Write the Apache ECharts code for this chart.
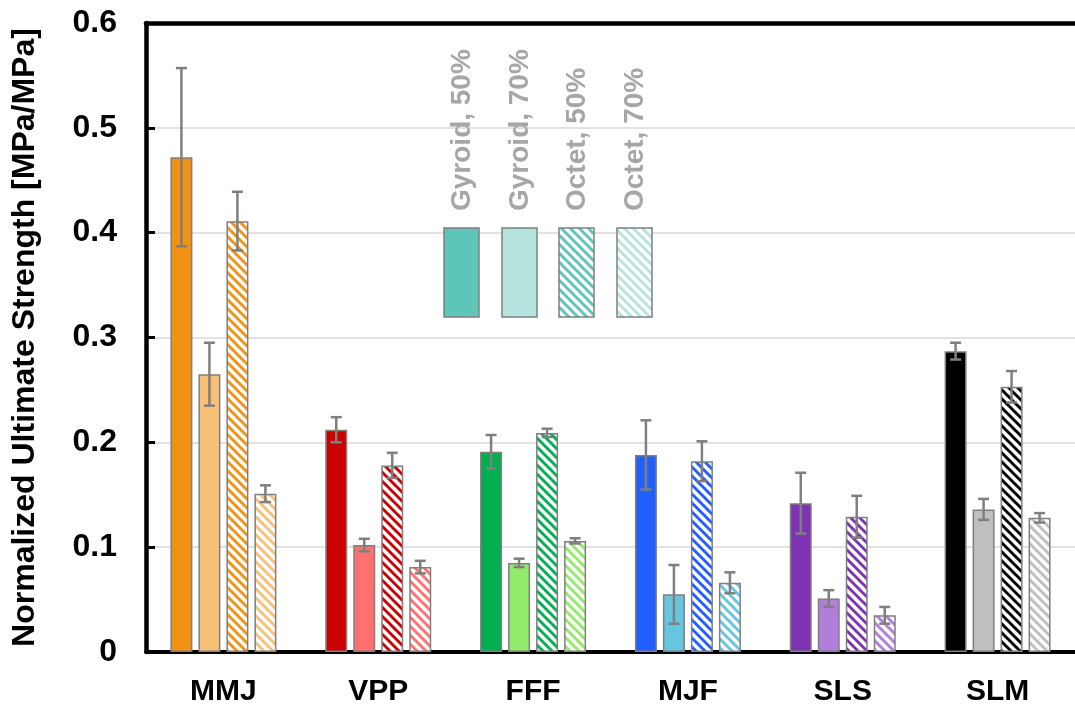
<!DOCTYPE html>
<html>
<head>
<meta charset="utf-8">
<script src="https://cdn.jsdelivr.net/npm/echarts@6/dist/echarts.min.js"></script>
<style>
html,body{margin:0;padding:0;background:#fff;}
#main{width:1075px;height:709px;}
</style>
</head>
<body>
<div id="main"></div>
<script>
// categories and values
var categories = ['MMJ', 'VPP', 'FFF', 'MJF', 'SLS', 'SLM'];
var seriesNames = ['Gyroid, 50%', 'Gyroid, 70%', 'Octet, 50%', 'Octet, 70%'];
var gyroid50 = [0.472, 0.212, 0.191, 0.188, 0.142, 0.287];
var gyroid70 = [0.265, 0.102, 0.085, 0.055, 0.051, 0.136];
var octet50 = [0.411, 0.178, 0.209, 0.182, 0.129, 0.253];
var octet70 = [0.151, 0.081, 0.106, 0.066, 0.035, 0.128];
// error (+/-)
var gyroid50Err = [0.085, 0.012, 0.016, 0.033, 0.029, 0.008];
var gyroid70Err = [0.030, 0.006, 0.004, 0.028, 0.008, 0.010];
var octet50Err = [0.028, 0.012, 0.004, 0.019, 0.020, 0.015];
var octet70Err = [0.008, 0.006, 0.0025, 0.010, 0.008, 0.0045];
var yTicks = [0, 0.1, 0.2, 0.3, 0.4, 0.5, 0.6];

var darkColors = ['#F39112', '#CC0000', '#00B050', '#215EFF', '#7E32B4', '#000000'];
var lightColors = ['#F8C077', '#FF7171', '#92EA6A', '#66C5E1', '#B07FD9', '#BFBFBF'];
var legendDark = '#5EC5B9';
var legendLight = '#B5E4DF';

var values = [gyroid50, gyroid70, octet50, octet70];
var errors = [gyroid50Err, gyroid70Err, octet50Err, octet70Err];

var barW = 22, barGapPx = 6;
var borderCol = '#7F7F7F';
var fontFam = '"Liberation Sans", Arial, sans-serif';

// diagonal stripe pattern
function hatch(color){
	var s = 9;
	var cv = document.createElement('canvas');
	cv.width = s; cv.height = s;
	var ctx = cv.getContext('2d');
	ctx.fillStyle = '#fff';
	ctx.fillRect(0, 0, s, s);
	ctx.strokeStyle = color;
	ctx.lineWidth = 2.9;
	for(var k = -1; k <= 1; k++){
		ctx.beginPath();
		ctx.moveTo(-2, -2 + k*s);
		ctx.lineTo(s+2, s+2 + k*s);
		ctx.stroke();
	}
	return {image: cv, repeat: 'repeat'};
}

function itemColor(si, ci){
	var c = (si % 2 == 0) ? darkColors[ci] : lightColors[ci];
	return si < 2 ? c : hatch(c);
}

var series = [];
for(var si = 0; si < 4; si++){
	var data = [];
	for(var ci = 0; ci < categories.length; ci++){
		data.push({
			value: values[si][ci],
			itemStyle: {color: itemColor(si, ci), borderColor: borderCol, borderWidth: 1.5}
		});
	}
	series.push({
		name: seriesNames[si],
		type: 'bar',
		barWidth: barW,
		barGap: (barGapPx / barW * 100) + '%',
		data: data,
		z: 2
	});
}

// error bars
for(var si = 0; si < 4; si++){
	var edata = [];
	for(var ci = 0; ci < categories.length; ci++){
		edata.push([ci, values[si][ci], errors[si][ci]]);
	}
	(function(idx){
		series.push({
			type: 'custom',
			z: 5,
			data: edata,
			renderItem: function(params, api){
				var off = (idx - 1.5) * (barW + barGapPx);
				var v = api.value(1), e = api.value(2);
				var top = api.coord([api.value(0), v + e]);
				var bot = api.coord([api.value(0), v - e]);
				var x = top[0] + off;
				var st = {stroke: '#7F7F7F', lineWidth: 2.5};
				return {
					type: 'group',
					children: [
						{type: 'line', shape: {x1: x, y1: top[1], x2: x, y2: bot[1]}, style: st},
						{type: 'line', shape: {x1: x-5.5, y1: top[1], x2: x+5.5, y2: top[1]}, style: st},
						{type: 'line', shape: {x1: x-5.5, y1: bot[1], x2: x+5.5, y2: bot[1]}, style: st}
					]
				};
			}
		});
	})(si);
}

// legend drawn as graphic
var legendX = [444, 502, 559, 617];
var graphics = [];
for(var i = 0; i < 4; i++){
	var lc = (i % 2 == 0) ? legendDark : legendLight;
	graphics.push({
		type: 'rect',
		shape: {x: legendX[i], y: 228, width: 35, height: 89},
		style: {fill: i < 2 ? lc : hatch(lc), stroke: borderCol, lineWidth: 1.5},
		z: 10
	});
	graphics.push({
		type: 'text',
		x: legendX[i] + 18,
		y: 211,
		rotation: Math.PI / 2,
		style: {
			text: seriesNames[i],
			fill: '#A6A6A6',
			font: 'bold 28px ' + fontFam,
			align: 'left',
			verticalAlign: 'middle'
		},
		z: 10
	});
}

var chart = echarts.init(document.getElementById('main'));
var option = {
	backgroundColor: '#fff',
	animation: false,
	grid: {left: 146, right: 0, top: 23, bottom: 57, outerBoundsMode: 'none', containLabel: false},
	xAxis: [
		{
			type: 'category',
			data: categories,
			axisLine: {lineStyle: {color: '#000', width: 4}},
			axisTick: {show: false},
			axisLabel: {
				color: '#000',
				fontFamily: fontFam,
				fontWeight: 'bold',
				fontSize: 30,
				margin: 25
			}
		},
		{
			type: 'category',
			position: 'top',
			data: categories,
			axisLine: {lineStyle: {color: '#000', width: 4.5}},
			axisTick: {show: false},
			axisLabel: {show: false}
		}
	],
	yAxis: {
		type: 'value',
		min: yTicks[0],
		max: yTicks[yTicks.length - 1],
		interval: 0.1,
		name: 'Normalized Ultimate Strength [MPa/MPa]',
		nameLocation: 'middle',
		nameRotate: 90,
		nameGap: 105,
		nameTextStyle: {
			color: '#000',
			fontFamily: fontFam,
			fontWeight: 'bold',
			fontSize: 32
		},
		axisLine: {show: true, lineStyle: {color: '#000', width: 4.5}},
		axisTick: {show: true, inside: true, length: 9, lineStyle: {color: '#000', width: 3}},
		axisLabel: {
			color: '#000',
			fontFamily: fontFam,
			fontWeight: 'bold',
			fontSize: 32,
			margin: 29,
			formatter: function(v){ return v == 0 ? '0' : v.toFixed(1); }
		},
		splitLine: {lineStyle: {color: '#D9D9D9', width: 1.5}}
	},
	graphic: graphics,
	series: series
};
chart.setOption(option);
</script>
</body>
</html>
